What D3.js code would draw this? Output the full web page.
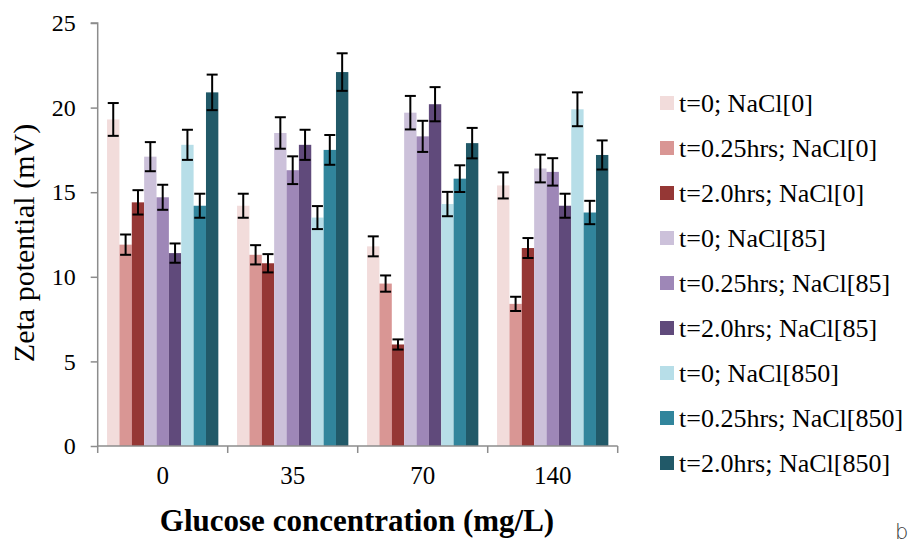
<!DOCTYPE html>
<html>
<head>
<meta charset="utf-8">
<script src="https://cdn.jsdelivr.net/npm/d3@7"></script>
<style>
  html, body { margin: 0; padding: 0; background: #fff; }
  svg { display: block; font-family: "Liberation Serif", "Times New Roman", serif; }
</style>
</head>
<body>
<svg id="chart" width="909" height="546"></svg>
<script>
// Glucose concentration groups (mg/L)
const categories = ["0", "35", "70", "140"];

// Series: exposure time and NaCl concentration
const seriesNames = [
  "t=0; NaCl[0]",
  "t=0.25hrs; NaCl[0]",
  "t=2.0hrs; NaCl[0]",
  "t=0; NaCl[85]",
  "t=0.25hrs; NaCl[85]",
  "t=2.0hrs; NaCl[85]",
  "t=0; NaCl[850]",
  "t=0.25hrs; NaCl[850]",
  "t=2.0hrs; NaCl[850]"
];

const seriesColors = [
  "#F2DCDB", "#D99694", "#953735",
  "#CCC1DA", "#9E87B7", "#604A7B",
  "#B7DEE8", "#31859C", "#215968"
];

// Zeta potential (mV), one array per series, values for glucose 0 / 35 / 70 / 140
const zeta_t0_NaCl0      = [19.3, 14.2, 11.8, 15.4];
const zeta_t025_NaCl0    = [11.9, 11.3,  9.6,  8.4];
const zeta_t2_NaCl0      = [14.4, 10.8,  6.0, 11.7];
const zeta_t0_NaCl85     = [17.1, 18.5, 19.7, 16.4];
const zeta_t025_NaCl85   = [14.7, 16.3, 18.3, 16.2];
const zeta_t2_NaCl85     = [11.4, 17.8, 20.2, 14.2];
const zeta_t0_NaCl850    = [17.8, 13.5, 14.3, 19.9];
const zeta_t025_NaCl850  = [14.2, 17.5, 15.8, 13.8];
const zeta_t2_NaCl850    = [20.9, 22.1, 17.9, 17.2];

// Error bar half-lengths (mV)
const err_t0_NaCl0      = [0.97, 0.71, 0.59, 0.77];
const err_t025_NaCl0    = [0.60, 0.57, 0.48, 0.42];
const err_t2_NaCl0      = [0.72, 0.54, 0.30, 0.59];
const err_t0_NaCl85     = [0.86, 0.93, 0.99, 0.82];
const err_t025_NaCl85   = [0.74, 0.82, 0.92, 0.81];
const err_t2_NaCl85     = [0.57, 0.89, 1.01, 0.71];
const err_t0_NaCl850    = [0.89, 0.68, 0.72, 1.00];
const err_t025_NaCl850  = [0.71, 0.88, 0.79, 0.69];
const err_t2_NaCl850    = [1.05, 1.11, 0.90, 0.86];

const yTicks = [0, 5, 10, 15, 20, 25];

const values = [
  zeta_t0_NaCl0, zeta_t025_NaCl0, zeta_t2_NaCl0,
  zeta_t0_NaCl85, zeta_t025_NaCl85, zeta_t2_NaCl85,
  zeta_t0_NaCl850, zeta_t025_NaCl850, zeta_t2_NaCl850
];
const errors = [
  err_t0_NaCl0, err_t025_NaCl0, err_t2_NaCl0,
  err_t0_NaCl85, err_t025_NaCl85, err_t2_NaCl85,
  err_t0_NaCl850, err_t025_NaCl850, err_t2_NaCl850
];

const serif = "'Liberation Serif', 'Times New Roman', serif";
const svg = d3.select("#chart");
const plot = { left: 97.7, right: 617.7, top: 23, bottom: 446 };
const axisColor = "#8C8C8C";

const y = d3.scaleLinear().domain([0, 25]).range([plot.bottom, plot.top]);
const x0 = d3.scaleBand().domain(categories)
  .range([plot.left, plot.right])
  .paddingInner(0.144).paddingOuter(0.072);
const x1 = d3.scaleBand().domain(d3.range(seriesNames.length))
  .range([0, x0.bandwidth()]).padding(0);

// Flatten for drawing
const cells = [];
categories.forEach((c, ci) => {
  seriesNames.forEach((s, si) => {
    cells.push({ cat: c, s: si, v: values[si][ci], e: errors[si][ci] });
  });
});

// Bars
svg.append("g").selectAll("rect").data(cells).join("rect")
  .attr("x", d => x0(d.cat) + x1(d.s))
  .attr("y", d => y(d.v))
  .attr("width", x1.bandwidth())
  .attr("height", d => y(0) - y(d.v))
  .attr("fill", d => seriesColors[d.s]);

// Error bars
const eb = svg.append("g").attr("stroke", "#000").attr("stroke-width", 2).attr("fill", "none");
const capHalf = 5.5;
cells.forEach(d => {
  const cx = x0(d.cat) + x1(d.s) + x1.bandwidth() / 2;
  const yt = y(d.v + d.e), yb = y(d.v - d.e);
  eb.append("line").attr("x1", cx).attr("x2", cx).attr("y1", yt).attr("y2", yb);
  eb.append("line").attr("x1", cx - capHalf).attr("x2", cx + capHalf).attr("y1", yt).attr("y2", yt);
  eb.append("line").attr("x1", cx - capHalf).attr("x2", cx + capHalf).attr("y1", yb).attr("y2", yb);
});

// Y axis
const yAxis = svg.append("g")
  .attr("transform", `translate(${plot.left},0)`)
  .call(d3.axisLeft(y).tickValues(yTicks).tickSize(7).tickPadding(15))
  .attr("font-family", serif);
yAxis.select(".domain").attr("stroke", axisColor).attr("stroke-width", 1.5)
  .attr("d", `M-7,${plot.top}H0V${plot.bottom}`);
yAxis.selectAll(".tick line").attr("stroke", axisColor).attr("stroke-width", 1.5);
yAxis.selectAll(".tick text")
  .style("font-family", serif)
  .attr("font-size", 24).attr("fill", "#000");

// X axis: category labels centered in each group
const xAxis = svg.append("g")
  .attr("transform", `translate(0,${plot.bottom})`)
  .call(d3.axisBottom(x0).tickSize(0).tickPadding(20))
  .attr("font-family", serif);
xAxis.select(".domain").attr("stroke", axisColor).attr("stroke-width", 1.5)
  .attr("d", `M${plot.left},0H${plot.right}`);
xAxis.selectAll(".tick text")
  .style("font-family", serif)
  .attr("font-size", 25).attr("fill", "#000");

// Tick marks on the category boundaries
const boundaries = categories.map(c => x0(c) - x0.step() * x0.paddingOuter())
  .concat([plot.right]);
svg.append("g").selectAll("line").data(boundaries).join("line")
  .attr("x1", d => d).attr("x2", d => d)
  .attr("y1", plot.bottom).attr("y2", plot.bottom + 7)
  .attr("stroke", axisColor).attr("stroke-width", 1.5);

// Axis titles
svg.append("text")
  .attr("transform", `translate(34,243) rotate(-90)`)
  .attr("text-anchor", "middle")
  .style("font-family", serif)
  .attr("font-size", 30)
  .text("Zeta potential (mV)");

svg.append("text")
  .attr("x", 357).attr("y", 531)
  .attr("text-anchor", "middle")
  .style("font-family", serif)
  .attr("font-size", 31).attr("font-weight", "bold")
  .text("Glucose concentration (mg/L)");

// Legend
const legend = svg.append("g").attr("transform", "translate(660,103)");
const rowH = 45;
const rows = legend.selectAll("g").data(seriesNames).join("g")
  .attr("transform", (d, i) => `translate(0,${i * rowH})`);
rows.append("rect")
  .attr("x", 0).attr("y", -7).attr("width", 14).attr("height", 14)
  .attr("fill", (d, i) => seriesColors[i]);
rows.append("text")
  .attr("x", 19).attr("y", 9)
  .style("font-family", serif)
  .attr("font-size", 26).attr("fill", "#000")
  .text(d => d);

// Panel letter
svg.append("text")
  .attr("x", 895).attr("y", 539)
  .style("font-family", "'DejaVu Sans', sans-serif")
  .attr("font-size", 21).attr("font-weight", 300).attr("fill", "#333")
  .text("b");
</script>
</body>
</html>
